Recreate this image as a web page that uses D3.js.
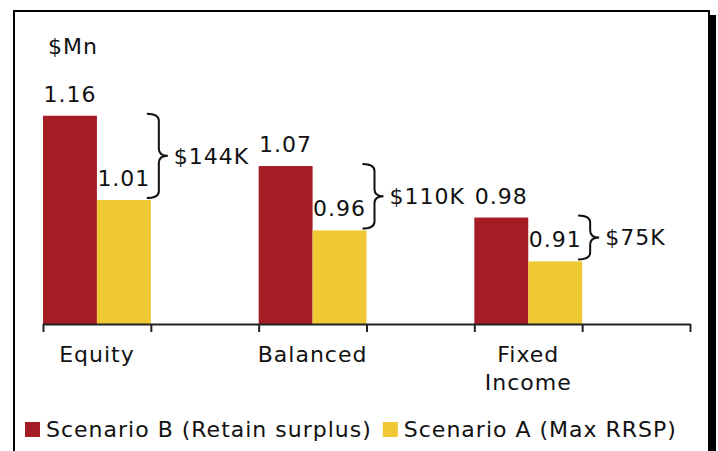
<!DOCTYPE html>
<html>
<head>
<meta charset="utf-8">
<script src="https://cdn.jsdelivr.net/npm/d3@7"></script>
<style>
  body { margin: 0; background: #fff; }
  svg { display: block; font-family: Verdana, "DejaVu Sans", sans-serif; letter-spacing: 1px; }
</style>
</head>
<body>
<svg id="chart"></svg>
<script>
// data
var categories = ["Equity", "Balanced", "Fixed Income"];
var seriesNames = ["Scenario B (Retain surplus)", "Scenario A (Max RRSP)"];
var scenarioB = [1.156, 1.070, 0.982];
var scenarioA = [1.012, 0.960, 0.907];
var unitLabel = "$Mn";

var width = 718,
  height = 451,
  fontSize = 22,
  colors = ["#a41c24", "#f0c834"];

var svg = d3.select("#chart").attr("width", width).attr("height", height);

// frame with a dark right edge
svg.append("rect")
  .attr("x", 14).attr("y", 11)
  .attr("width", 695).attr("height", 460)
  .attr("fill", "#fff").attr("stroke", "#000").attr("stroke-width", 2);
svg.append("rect")
  .attr("x", 710).attr("y", 15)
  .attr("width", 6).attr("height", 460)
  .attr("fill", "#000");

var x = d3.scaleBand().domain(categories).range([43, 690]);
var bw = x.bandwidth();
var xInner = d3.scaleBand().domain([0, 1]).range([0, bw / 2]);
var y = d3.scaleLinear().domain([0.8, 1.2]).range([324, 90]);
var fmt = d3.format(".2f");

var rows = categories.map(function(c, i) {
  return { cat: c, values: [scenarioB[i], scenarioA[i]] };
});

var group = svg.selectAll("g.cat")
  .data(rows)
  .enter().append("g")
  .attr("class", "cat")
  .attr("transform", function(d) { return "translate(" + x(d.cat) + ",0)"; });

var bars = group.selectAll("g.bar")
  .data(function(d) { return d.values.map(function(v, j) { return { v: v, j: j }; }); })
  .enter().append("g")
  .attr("class", "bar");

bars.append("rect")
  .attr("x", function(d) { return xInner(d.j); })
  .attr("y", function(d) { return y(d.v); })
  .attr("width", xInner.bandwidth())
  .attr("height", function(d) { return y(0.8) - y(d.v); })
  .attr("fill", function(d) { return colors[d.j]; });

bars.append("text")
  .attr("x", function(d) { return xInner(d.j) + xInner.bandwidth() / 2; })
  .attr("y", function(d) { return y(d.v) - 14; })
  .attr("text-anchor", "middle")
  .attr("font-size", fontSize)
  .attr("fill", "#111")
  .text(function(d) { return fmt(d.v); });

// braces showing the gap between the two scenarios
group.each(function(d) {
  var g = d3.select(this);
  var x0 = bw / 2 - 4, xv = x0 + 12, xt = x0 + 21;
  var top = y(d.values[0]) - 2, bot = y(d.values[1]) - 2;
  var mid = (top + bot) / 2, r = 7;
  var p = d3.path();
  p.moveTo(x0, top);
  p.quadraticCurveTo(xv, top, xv, top + r);
  p.lineTo(xv, mid - r);
  p.quadraticCurveTo(xv, mid, xt, mid);
  p.quadraticCurveTo(xv, mid, xv, mid + r);
  p.lineTo(xv, bot - r);
  p.quadraticCurveTo(xv, bot, x0, bot);
  g.append("path")
    .attr("d", p.toString())
    .attr("fill", "none")
    .attr("stroke", "#111")
    .attr("stroke-width", 2);
  var diff = Math.round((d.values[0] - d.values[1]) * 1000);
  g.append("text")
    .attr("x", xt + 6)
    .attr("y", mid + 8)
    .attr("font-size", fontSize)
    .attr("fill", "#111")
    .text("$" + diff + "K");
});

// category axis, ticks at each band edge and mid point
var xTick = d3.scaleLinear().domain([0, categories.length]).range(x.range());
var axis = svg.append("g")
  .attr("transform", "translate(0," + y(0.8) + ")")
  .call(d3.axisBottom(xTick)
    .tickValues(d3.range(0, categories.length + 0.5, 0.5))
    .tickFormat("")
    .tickSize(8)
    .tickSizeOuter(0));
axis.select(".domain").attr("stroke", "#222").attr("stroke-width", 2);
axis.selectAll(".tick line").attr("stroke", "#222").attr("stroke-width", 2);

var catLabel = svg.selectAll("text.catlabel")
  .data(categories)
  .enter().append("text")
  .attr("class", "catlabel")
  .attr("text-anchor", "middle")
  .attr("font-size", fontSize)
  .attr("fill", "#111")
  .attr("y", 362);
catLabel.selectAll("tspan")
  .data(function(d) { return d.split(" ").map(function(w) { return { w: w, c: d }; }); })
  .enter().append("tspan")
  .attr("x", function(d) { return x(d.c) + bw / 4; })
  .attr("dy", function(d, i) { return i ? 28 : 0; })
  .text(function(d) { return d.w; });

svg.append("text")
  .attr("x", 48).attr("y", 54)
  .attr("font-size", fontSize)
  .attr("fill", "#111")
  .text(unitLabel);

// legend
var lx = 25;
seriesNames.forEach(function(name, i) {
  svg.append("rect")
    .attr("x", lx).attr("y", 422)
    .attr("width", 15).attr("height", 15)
    .attr("fill", colors[i]);
  var t = svg.append("text")
    .attr("x", lx + 21).attr("y", 437)
    .attr("font-size", fontSize)
    .attr("fill", "#111")
    .text(name);
  lx += 21 + t.node().getComputedTextLength() + 11;
});
</script>
</body>
</html>
